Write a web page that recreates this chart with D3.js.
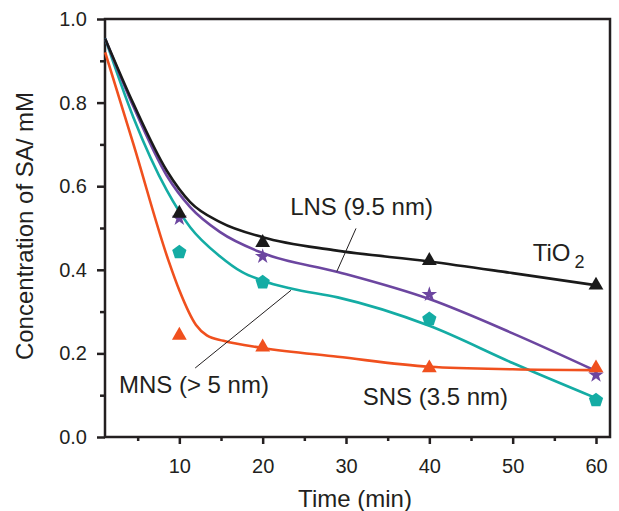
<!DOCTYPE html>
<html>
<head>
<meta charset="utf-8">
<script src="https://cdn.jsdelivr.net/npm/d3@7"></script>
<style>
  body { margin: 0; background: #fff; }
  svg { display: block; font-family: "Liberation Sans", Arial, sans-serif; }
</style>
</head>
<body>
<svg id="chart"></svg>
<script>
// measured points (time in min, concentration in mM)
var tio2Pts = [[10, 0.535], [20, 0.465], [40, 0.422], [60, 0.363]];
var lnsPts  = [[10, 0.523], [20, 0.432], [40, 0.341], [60, 0.148]];
var mnsPts  = [[10, 0.442], [20, 0.370], [40, 0.282], [60, 0.088]];
var snsPts  = [[10, 0.243], [20, 0.215], [40, 0.165], [60, 0.165]];

// fitted curves
var tio2Fit = [[1.1, 0.953], [4.5, 0.797], [8.5, 0.637], [11.3, 0.562], [14.9, 0.514], [20, 0.478], [28.5, 0.447], [40, 0.42], [50, 0.392], [60, 0.363]];
var lnsFit  = [[1.1, 0.953], [4.5, 0.79], [8.5, 0.625], [11.3, 0.55], [14.9, 0.49], [20, 0.44], [29, 0.395], [40, 0.33], [50, 0.248], [60, 0.158]];
var mnsFit  = [[1.1, 0.953], [4.5, 0.764], [8.5, 0.59], [11.3, 0.502], [14.9, 0.432], [17.5, 0.395], [20, 0.374], [23.4, 0.355], [29, 0.334], [40, 0.266], [50, 0.177], [60, 0.093]];
var snsFit  = [[1.1, 0.92], [4.5, 0.70], [8.7, 0.422], [10, 0.351], [12, 0.268], [13.3, 0.243], [15.3, 0.23], [20, 0.213], [29, 0.192], [40, 0.168], [50, 0.162], [60, 0.16]];

var xMajor = [10, 20, 30, 40, 50, 60];
var xMinor = [5, 15, 25, 35, 45, 55];
var yMajor = [0, 0.2, 0.4, 0.6, 0.8, 1.0];
var yMinor = [0.1, 0.3, 0.5, 0.7, 0.9];

var ink = "#231f20";
var colors = { tio2: "#1a1a1a", lns: "#6c46a0", mns: "#14aca4", sns: "#f0501e" };

var W = 619, H = 511;
var svg = d3.select("#chart").attr("width", W).attr("height", H);

var x = d3.scaleLinear().domain([1.08, 61.68]).range([105, 610]);
var y = d3.scaleLinear().domain([0, 1]).range([437, 19]);

var line = d3.line()
  .x(function(d) { return x(d[0]); })
  .y(function(d) { return y(d[1]); })
  .curve(d3.curveMonotoneX);

// frame
svg.append("rect")
  .attr("x", x.range()[0]).attr("y", y.range()[1])
  .attr("width", x.range()[1] - x.range()[0])
  .attr("height", y.range()[0] - y.range()[1])
  .style("fill", "none").style("stroke", ink).style("stroke-width", 2.5);

// axes
function styleAxis(g) {
  g.select(".domain").remove();
  g.selectAll("line").style("stroke", ink).style("stroke-width", 2.5);
  g.selectAll("text").style("fill", ink).style("font-size", "20px")
    .style("font-family", "'Liberation Sans', Arial, sans-serif");
}

svg.append("g").attr("transform", "translate(0," + y.range()[0] + ")")
  .call(d3.axisBottom(x).tickValues(xMajor).tickSize(7).tickPadding(15).tickFormat(d3.format("d")))
  .call(styleAxis);
svg.append("g").attr("transform", "translate(0," + y.range()[0] + ")")
  .call(d3.axisBottom(x).tickValues(xMinor).tickSize(4).tickFormat(""))
  .call(styleAxis);

svg.append("g").attr("transform", "translate(" + x.range()[0] + ",0)")
  .call(d3.axisLeft(y).tickValues(yMajor).tickSize(8).tickPadding(10).tickFormat(d3.format(".1f")))
  .call(styleAxis);
svg.append("g").attr("transform", "translate(" + x.range()[0] + ",0)")
  .call(d3.axisLeft(y).tickValues(yMinor).tickSize(5).tickFormat(""))
  .call(styleAxis);

// axis titles
svg.append("text")
  .attr("transform", "translate(33,226) rotate(-90)")
  .style("text-anchor", "middle").style("font-size", "24px").style("fill", ink)
  .text("Concentration of SA/ mM");

svg.append("text")
  .attr("x", 355).attr("y", 507)
  .style("text-anchor", "middle").style("font-size", "24px").style("fill", ink)
  .text("Time (min)");

// fitted curves
var plot = svg.append("g");
[["mns", mnsFit], ["lns", lnsFit], ["tio2", tio2Fit], ["sns", snsFit]].forEach(function(s) {
  plot.append("path")
    .datum(s[1])
    .attr("d", line)
    .style("fill", "none")
    .style("stroke", colors[s[0]])
    .style("stroke-width", 2.6);
});

// markers
function pentagon(r) {
  var pts = d3.range(5).map(function(i) {
    var a = -Math.PI / 2 + i * 2 * Math.PI / 5;
    return [r * Math.cos(a), r * Math.sin(a)];
  });
  return "M" + pts.join("L") + "Z";
}

function markers(data, path, color) {
  plot.selectAll(null).data(data).enter().append("path")
    .attr("transform", function(d) { return "translate(" + x(d[0]) + "," + y(d[1]) + ")"; })
    .attr("d", path)
    .style("fill", color);
}

markers(mnsPts, pentagon(7.5), colors.mns);
markers(lnsPts, d3.symbol(d3.symbolStar, 75)(), colors.lns);
markers(tio2Pts, d3.symbol(d3.symbolTriangle, 95)(), colors.tio2);
markers(snsPts, d3.symbol(d3.symbolTriangle, 95)(), colors.sns);

// leader lines
var leaders = [
  [[31.2, 0.499], [28.9, 0.396]],
  [[23.4, 0.351], [11.9, 0.165]]
];
leaders.forEach(function(l) {
  svg.append("line")
    .attr("x1", x(l[0][0])).attr("y1", y(l[0][1]))
    .attr("x2", x(l[1][0])).attr("y2", y(l[1][1]))
    .style("stroke", ink).style("stroke-width", 1);
});

// series labels
var labels = [
  { text: "LNS (9.5 nm)", t: 23.3, v: 0.531 },
  { text: "MNS (> 5 nm)", t: 2.75, v: 0.105 },
  { text: "SNS (3.5 nm)", t: 32.0, v: 0.076 }
];
labels.forEach(function(l) {
  svg.append("text")
  .attr("x", x(l.t)).attr("y", y(l.v))
  .style("font-size", "24px").style("fill", ink)
  .text(l.text);
});

var tio2Label = svg.append("text")
  .attr("x", x(52.4)).attr("y", y(0.422))
  .style("font-size", "24px").style("fill", ink);
tio2Label.append("tspan").text("TiO");
tio2Label.append("tspan").attr("dx", 4).attr("dy", 7).style("font-size", "18px").text("2");
</script>
</body>
</html>
